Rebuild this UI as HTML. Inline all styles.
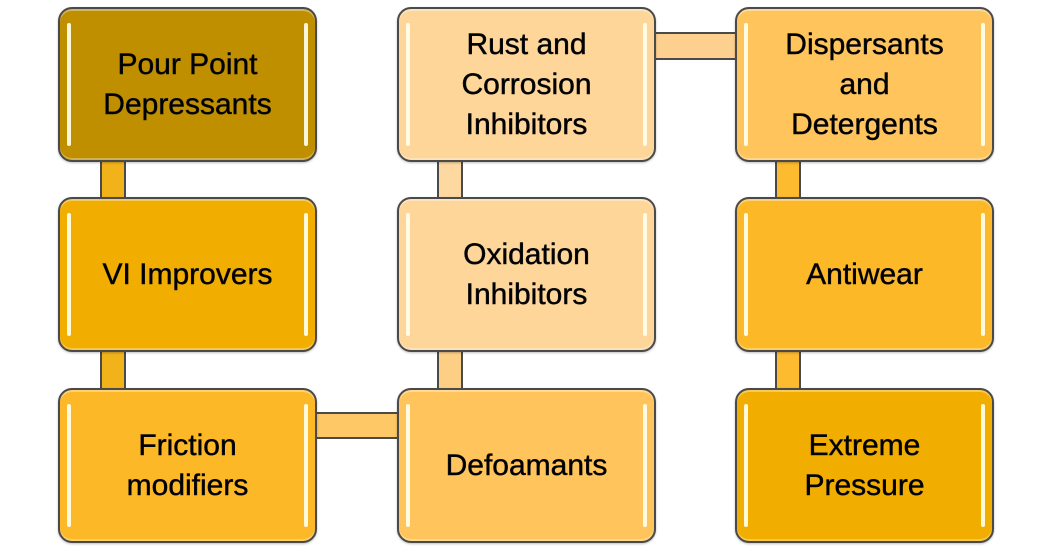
<!DOCTYPE html>
<html>
<head>
<meta charset="utf-8">
<style>
  html, body { margin:0; padding:0; background:#ffffff; }
  body { width:1050px; height:550px; position:relative; overflow:hidden;
         font-family:"Liberation Sans", Arial, sans-serif; }
  .box { position:absolute; box-sizing:border-box; width:259px; height:155px;
         border:2px solid #4a4a4a; border-radius:14px;
         box-shadow: 0 1px 2px rgba(0,0,0,0.25), inset 0 2px 0 rgba(255,255,255,0.35), inset 0 -2px 0 rgba(255,255,255,0.3);
         display:flex; align-items:center; justify-content:center; text-align:center;
         font-size:30px; line-height:40px; color:#000;
         -webkit-text-stroke:0.5px #111; }
  .box::before, .box::after { content:""; position:absolute; top:14px; bottom:14px; width:4px;
         background:rgba(255,255,235,0.92); border-radius:2px; }
  .box::before { left:7px; }
  .box::after { right:7px; }
  .box span { position:relative; top:0px; }
  .conn { position:absolute; box-sizing:border-box; border:2px solid #4a4a4a; }
  .v { width:26px; height:37px; border-top:none; border-bottom:none; }
  .h { height:28px; width:82px; border-left:none; border-right:none; }
</style>
</head>
<body>
  <!-- connectors -->
  <div class="conn v" style="left:100px; top:161px; background:#F2B21A;"></div>
  <div class="conn v" style="left:100px; top:351px; background:#F2B21A;"></div>
  <div class="conn v" style="left:437px; top:161px; background:#FDD8A0;"></div>
  <div class="conn v" style="left:437px; top:351px; background:#FDCF85;"></div>
  <div class="conn v" style="left:775px; top:161px; background:#FDBB30;"></div>
  <div class="conn v" style="left:775px; top:351px; background:#FDBB30;"></div>
  <div class="conn h" style="left:655px; top:32px; background:#FDD090;"></div>
  <div class="conn h" style="left:316px; top:412px; height:27px; background:#FEC866;"></div>

  <!-- column 1 -->
  <div class="box" style="left:58px; top:7px; background:#BF8F00;"><span>Pour Point<br>Depressants</span></div>
  <div class="box" style="left:58px; top:197px; background:#F2AE00;"><span>VI Improvers</span></div>
  <div class="box" style="left:58px; top:388px; background:#FDB827;"><span>Friction<br>modifiers</span></div>

  <!-- column 2 -->
  <div class="box" style="left:397px; top:7px; background:#FED699;"><span>Rust and<br>Corrosion<br>Inhibitors</span></div>
  <div class="box" style="left:397px; top:197px; background:#FED699;"><span>Oxidation<br>Inhibitors</span></div>
  <div class="box" style="left:397px; top:388px; background:#FFC55C;"><span>Defoamants</span></div>

  <!-- column 3 -->
  <div class="box" style="left:735px; top:7px; background:#FFC55C;"><span>Dispersants<br>and<br>Detergents</span></div>
  <div class="box" style="left:735px; top:197px; background:#FDB827;"><span>Antiwear</span></div>
  <div class="box" style="left:735px; top:388px; background:#F2AE00;"><span>Extreme<br>Pressure</span></div>
</body>
</html>
